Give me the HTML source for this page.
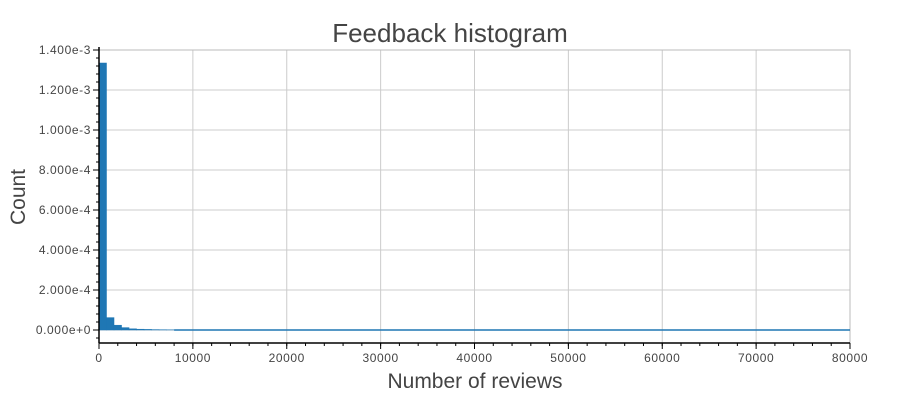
<!DOCTYPE html>
<html><head><meta charset="utf-8"><style>
body{margin:0;background:#fff;}
svg{display:block;font-family:"Liberation Sans",sans-serif;}
</style></head><body>
<svg id="chart" width="900" height="400" viewBox="0 0 900 400">
<text x="450" y="42" text-anchor="middle" font-size="26" fill="#444">Feedback histogram</text>
<g id="grid"></g>
<g id="bars"></g>
<g id="axes"></g>
<text x="475" y="388" text-anchor="middle" font-size="21" fill="#444">Number of reviews</text>
<text transform="translate(25,197) rotate(-90)" text-anchor="middle" font-size="21" fill="#444">Count</text>
</svg>
<script>
const binWidth = 800;
const binCounts = [1.335e-3, 6.2e-5, 2.4e-5, 1.2e-5, 6e-6, 4e-6, 3e-6, 2e-6, 1.5e-6, 1e-6];
const xTicks = [0,10000,20000,30000,40000,50000,60000,70000,80000];
const yTicks = [0,2e-4,4e-4,6e-4,8e-4,1e-3,1.2e-3,1.4e-3];
const yTickLabels = ["0.000e+0","2.000e-4","4.000e-4","6.000e-4","8.000e-4","1.000e-3","1.200e-3","1.400e-3"];
const xMax = 80000, yMax = 1.4e-3;

const L=99,R=850,T=50,B=330,AX=343;
const xs=v=>L+(v/xMax)*(R-L);
const ys=v=>B-(v/yMax)*(B-T);
const NS="http://www.w3.org/2000/svg";
function mk(tag,attrs,parent){const e=document.createElementNS(NS,tag);for(const k in attrs)e.setAttribute(k,attrs[k]);parent.appendChild(e);return e;}
const grid=document.getElementById('grid'),bars=document.getElementById('bars'),axes=document.getElementById('axes');

xTicks.forEach(t=>{if(t>0){const l=mk('line',{x1:xs(t),x2:xs(t),y1:T,y2:AX,stroke:'#ccc','stroke-width':1},grid);

}});
yTicks.forEach(t=>{const l=mk('line',{x1:L,x2:R,y1:ys(t),y2:ys(t),stroke:'#ccc','stroke-width':1},grid);

});
const fr=mk('rect',{x:L,y:T,width:R-L,height:AX-T,fill:'none',stroke:'#bbb','stroke-width':1},grid);



binCounts.forEach((c,i)=>{const x0=xs(i*binWidth),x1=xs((i+1)*binWidth);
const r=mk('rect',{x:x0,y:ys(c),width:x1-x0,height:Math.max(B-ys(c),0.01),fill:'#1f77b4',stroke:'#1f77b4','stroke-width':0.5},bars);

});
const bl=mk('line',{x1:xs(binCounts.length*binWidth),x2:R,y1:B,y2:B,stroke:'#1f77b4','stroke-width':1.5},bars);



mk('line',{x1:L,x2:L,y1:T-3,y2:AX,stroke:'#000','stroke-width':1.5},axes);
mk('line',{x1:L,x2:R,y1:AX,y2:AX,stroke:'#000','stroke-width':1.5},axes);
yTicks.forEach((t,i)=>{mk('line',{x1:L-6,x2:L,y1:ys(t),y2:ys(t),stroke:'#000'},axes);
const tx=mk('text',{x:L-8,y:ys(t)+4,'text-anchor':'end','font-size':12,'letter-spacing':0.6,fill:'#444'},axes);tx.textContent=yTickLabels[i];

});
for(let v=-0.4e-4;v<=yMax+1e-9;v+=0.4e-4){mk('line',{x1:L-3,x2:L,y1:ys(v),y2:ys(v),stroke:'#000'},axes);}
xTicks.forEach(t=>{mk('line',{x1:xs(t),x2:xs(t),y1:AX,y2:AX+6,stroke:'#000'},axes);
const tx=mk('text',{x:xs(t),y:AX+19,'text-anchor':'middle','font-size':12,'letter-spacing':0.6,fill:'#444'},axes);tx.textContent=String(t);

});
for(let v=0;v<=xMax;v+=2000){mk('line',{x1:xs(v),x2:xs(v),y1:AX,y2:AX+3,stroke:'#000'},axes);}
</script>
</body></html>
